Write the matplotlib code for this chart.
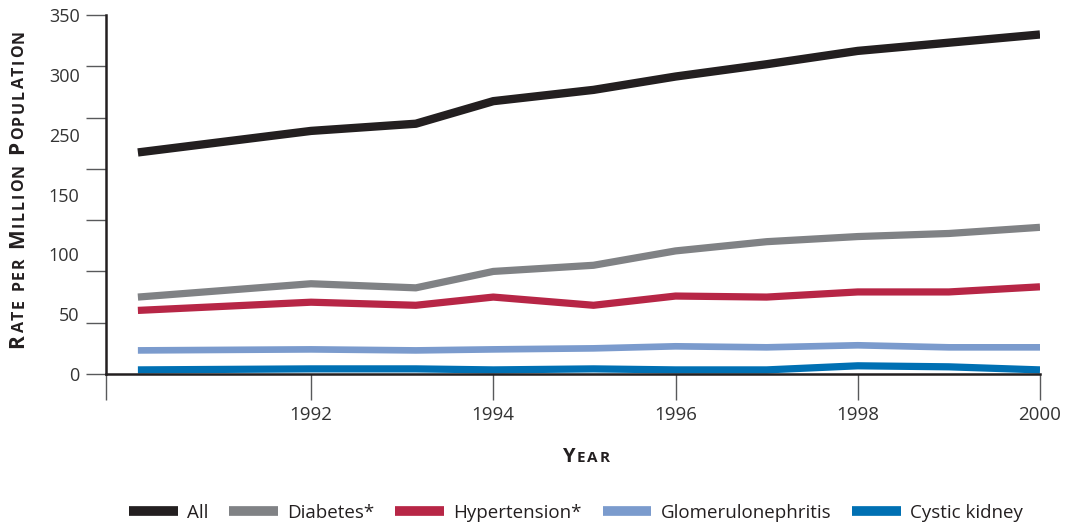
import numpy as np
import matplotlib
matplotlib.use("Agg")
import matplotlib.pyplot as plt
from matplotlib import font_manager

# data
years = [1990.1, 1992, 1993.15, 1994, 1995.1, 1996, 1997, 1998, 1999, 2000]
all_causes = [216, 237, 244, 266, 277, 290, 302, 315, 323, 331]
diabetes = [75, 88, 84, 100, 106, 120, 129, 134, 137, 143]
hypertension = [62, 70, 67, 75, 67, 76, 75, 80, 80, 85]
glomerulo = [23, 24, 23, 24, 25, 27, 26, 28, 26, 26]
cystic = [4, 5, 5, 4, 5, 4, 4, 8, 7, 4]

series_names = ["All", "Diabetes*", "Hypertension*", "Glomerulonephritis", "Cystic kidney"]
series_colors = ["#231f20", "#808285", "#b72646", "#7b9bcd", "#0070b3"]
series_widths = [6.0, 5.2, 5.2, 4.8, 5.2]

xticks = [1992, 1994, 1996, 1998, 2000]
yticks = [0, 50, 100, 150, 200, 250, 300, 350]
ylabels = ["0", "50", "100", "150", "250", "300", "350"]  # the source skips 200

installed = {f.name for f in font_manager.fontManager.ttflist}
font = "Open Sans" if "Open Sans" in installed else "DejaVu Sans"

W, H = 1066, 527
fig = plt.figure(figsize=(W / 100, H / 100), dpi=100)
ax = fig.add_axes([106 / W, 1 - 374 / H, (1040 - 106) / W, (374 - 15) / H])

for vals, name, col, lw in zip([all_causes, diabetes, hypertension, glomerulo, cystic],
                               series_names, series_colors, series_widths):
    ax.plot(years, vals, color=col, lw=lw, label=name,
            solid_capstyle="butt", solid_joinstyle="round")

ax.set_xlim(1989.75, 2000)
ax.set_ylim(0, 350)

for s in ["top", "right"]:
    ax.spines[s].set_visible(False)
for s in ["left", "bottom"]:
    ax.spines[s].set_color("#231f20")
    ax.spines[s].set_linewidth(1.8)

# x ticks (plus one at the left end, unlabelled)
ax.set_xticks([1989.75] + xticks)
ax.set_xticklabels([""] + [str(x) for x in xticks], fontfamily=font, fontsize=13.5,
                   color="#333333")
ax.tick_params(axis="x", length=19, width=1.0, color="#58595b", pad=4)

# y tick marks on the 50s, labels spread evenly as in the source
ax.yaxis.remove_overlapping_locs = False
ax.set_yticks(yticks)
ax.set_yticklabels([""] * len(yticks))
ax.tick_params(axis="y", which="major", length=14.5, width=1.0, color="#58595b")
ax.set_yticks(np.linspace(0, 350, len(ylabels)), minor=True)
ax.set_yticklabels(ylabels, minor=True, fontfamily=font, fontsize=13, color="#333333")
ax.tick_params(axis="y", which="minor", length=0, pad=19)


def small_caps(text, cx, cy, big, small, length, rotation=0):
    """place text as letter-spaced bold small caps, centred at (cx, cy) px from top-left"""
    renderer = fig.canvas.get_renderer()
    chars = []
    for ch in text:
        size = big if ch.isupper() else small
        if ch == " ":
            chars.append((" ", size, small * 0.35 * 100 / 72))
            continue
        tmp = fig.text(0, 0, ch.upper(), fontsize=size, fontweight="bold", fontfamily=font)
        w = tmp.get_window_extent(renderer).width
        tmp.remove()
        chars.append((ch.upper(), size, w))
    total = sum(c[2] for c in chars)
    track = (length - total) / (len(chars) - 1)
    pos = -length / 2
    for ch, size, w in chars:
        if ch != " ":
            if rotation == 90:
                fig.text(cx / W, 1 - (cy - pos) / H, ch, fontsize=size, fontweight="bold",
                         fontfamily=font, rotation=90, rotation_mode="anchor",
                         ha="left", va="baseline", color="#231f20")
            else:
                fig.text((cx + pos) / W, 1 - cy / H, ch, fontsize=size, fontweight="bold",
                         fontfamily=font, ha="left", va="baseline", color="#231f20")
        pos += w + track


small_caps("Rate per Million Population", 23.5, 189, 15, 11.5, 318, rotation=90)
small_caps("Year", 586, 462, 14.5, 11, 48)

leg = fig.legend(loc="center", bbox_to_anchor=(576 / W, 1 - 513 / H), ncol=5, frameon=False,
                 prop={"family": font, "size": 13.5}, handlelength=2.6, handletextpad=0.5,
                 columnspacing=1.1)
for line in leg.get_lines():
    line.set_linewidth(7)
for t in leg.get_texts():
    t.set_color("#231f20")

fig.savefig("out.png", dpi=100)
